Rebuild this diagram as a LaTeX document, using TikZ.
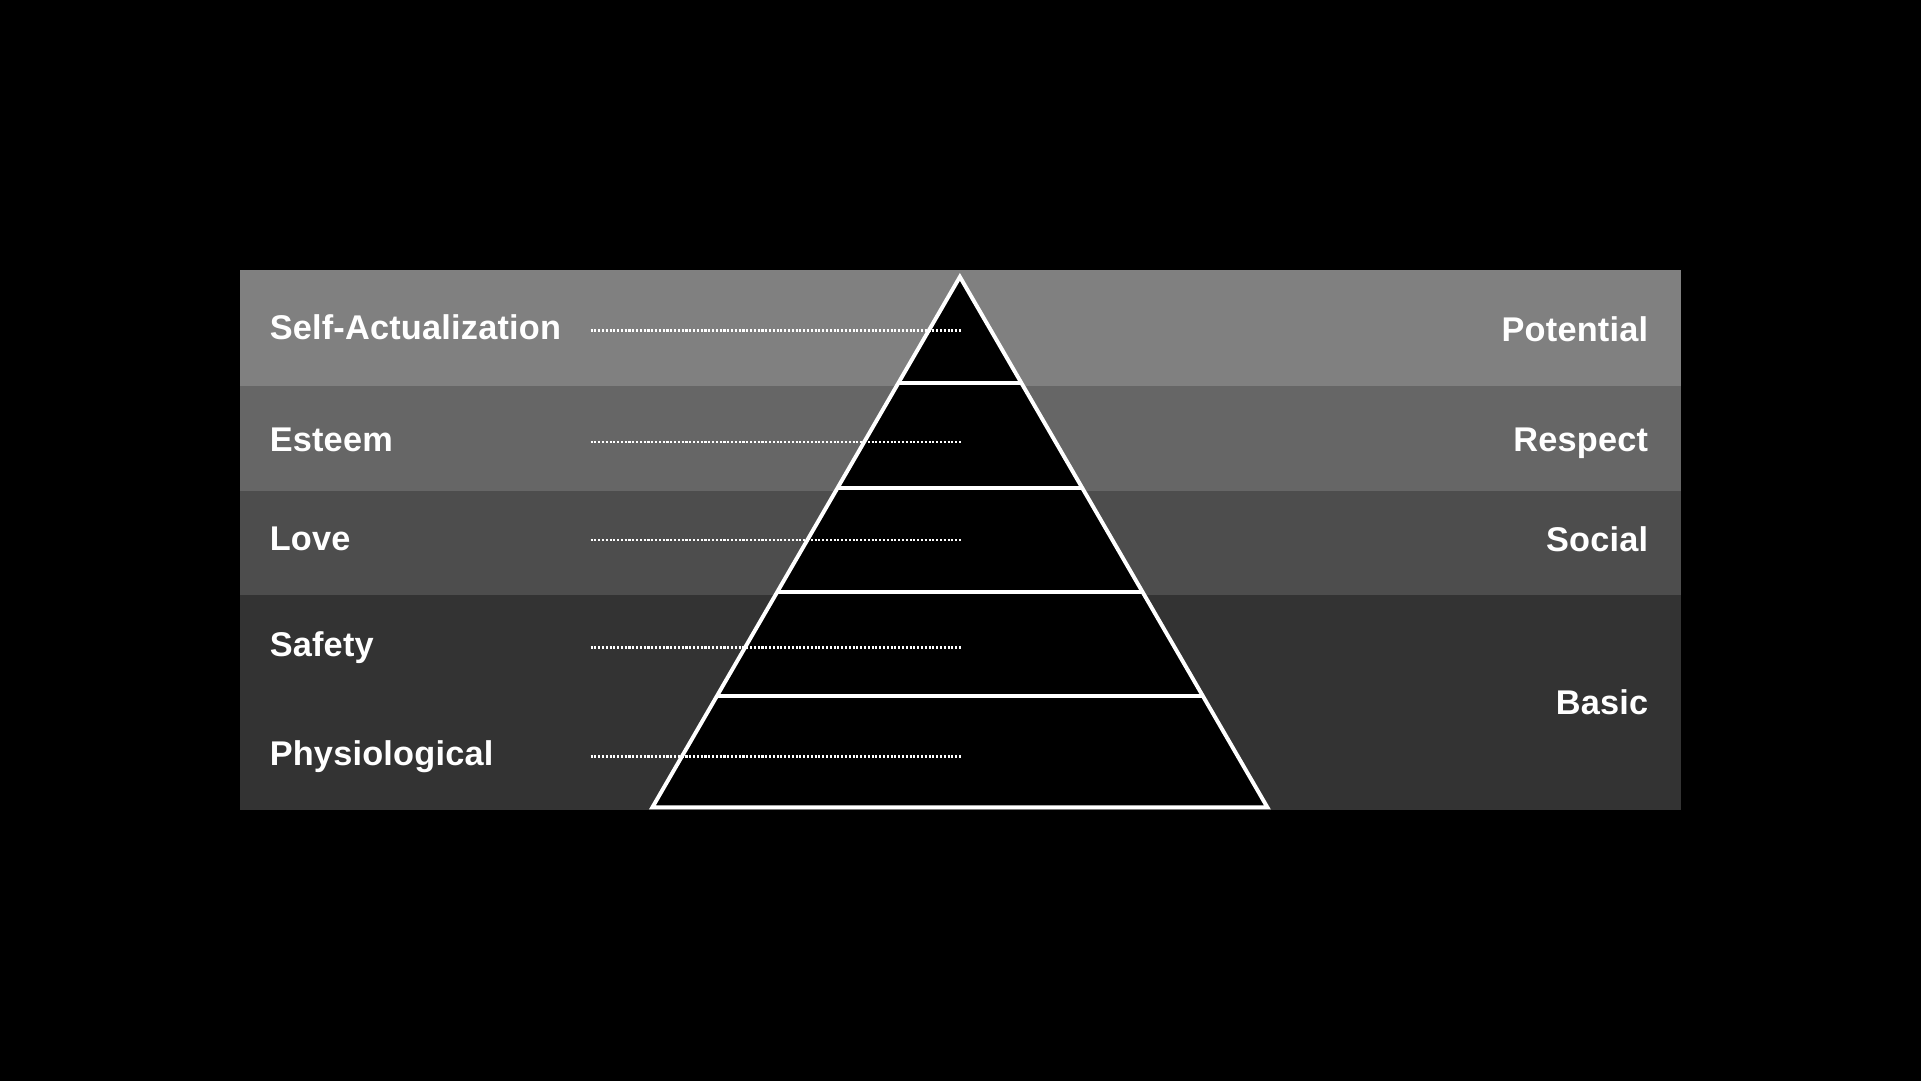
\documentclass[tikz,border=0pt]{standalone}
\usepackage{fontspec}
\setmainfont{Liberation Sans}[LetterSpace=0.6]
\usetikzlibrary{calc}
\definecolor{bandA}{RGB}{128,128,128}
\definecolor{bandB}{RGB}{102,102,102}
\definecolor{bandC}{RGB}{77,77,77}
\definecolor{bandD}{RGB}{51,51,51}
\tikzset{
  lbl/.style={text=white,font=\fontsize{28}{31}\selectfont\bfseries,inner sep=0pt,anchor=base west},
  rlbl/.style={text=white,font=\fontsize{28}{31}\selectfont\bfseries,inner sep=0pt,anchor=base east},
  pyr/.style={draw=white,line width=3.2pt,line join=miter},
  tier/.style={draw=white,line width=3.2pt},
  dots/.style={draw=white,line width=2pt,dash pattern=on 1.7pt off 1.4pt}
}
\begin{document}
\begin{tikzpicture}[x=1pt,y=-1pt]
\fill[black] (0,0) rectangle (1568,882);
\useasboundingbox (0,0) rectangle (1568,882);
% bands
\fill[bandA] (196,220) rectangle (1372,315);
\fill[bandB] (196,315) rectangle (1372,400.5);
\fill[bandC] (196,400.5) rectangle (1372,485.5);
\fill[bandD] (196,485.5) rectangle (1372,661);
% pyramid
\coordinate (A) at (783.5,226);
\coordinate (BL) at (532.5,659);
\coordinate (BR) at (1034.5,659);
\fill[black] (A) -- (BL) -- (BR) -- cycle;
\foreach \t [count=\i] in {0.2009,0.3972,0.5947,0.7898}{
  \coordinate (L\i) at ($(A)!\t!(BL)$);
  \coordinate (R\i) at ($(A)!\t!(BR)$);
  \draw[tier] (L\i) -- (R\i);
}
\draw[pyr] (A) -- (BL) -- (BR) -- cycle;
% dotted guide lines
\foreach \y [count=\i] in {269.6,360.8,440.6,528.4,617.3}{
  \coordinate (ds\i) at (482,\y);
  \coordinate (de\i) at (784.5,\y);
  \draw[dots] (ds\i) -- (de\i);
}
% left labels
\node[lbl] (self) at (220,277) {Self-Actualization};
\node[lbl] (est) at (220,368.5) {Esteem};
\node[lbl] (love) at (220,449) {Love};
\node[lbl] (safe) at (220,535.5) {Safety};
\node[lbl] (phys) at (220,625) {Physiological};
% right labels
\node[rlbl] (pot) at (1345.5,278.4) {Potential};
\node[rlbl] (resp) at (1345.5,368.7) {Respect};
\node[rlbl] (soc) at (1345.5,450.3) {Social};
\node[rlbl] (bas) at (1345.5,583.6) {Basic};
\end{tikzpicture}
\end{document}
